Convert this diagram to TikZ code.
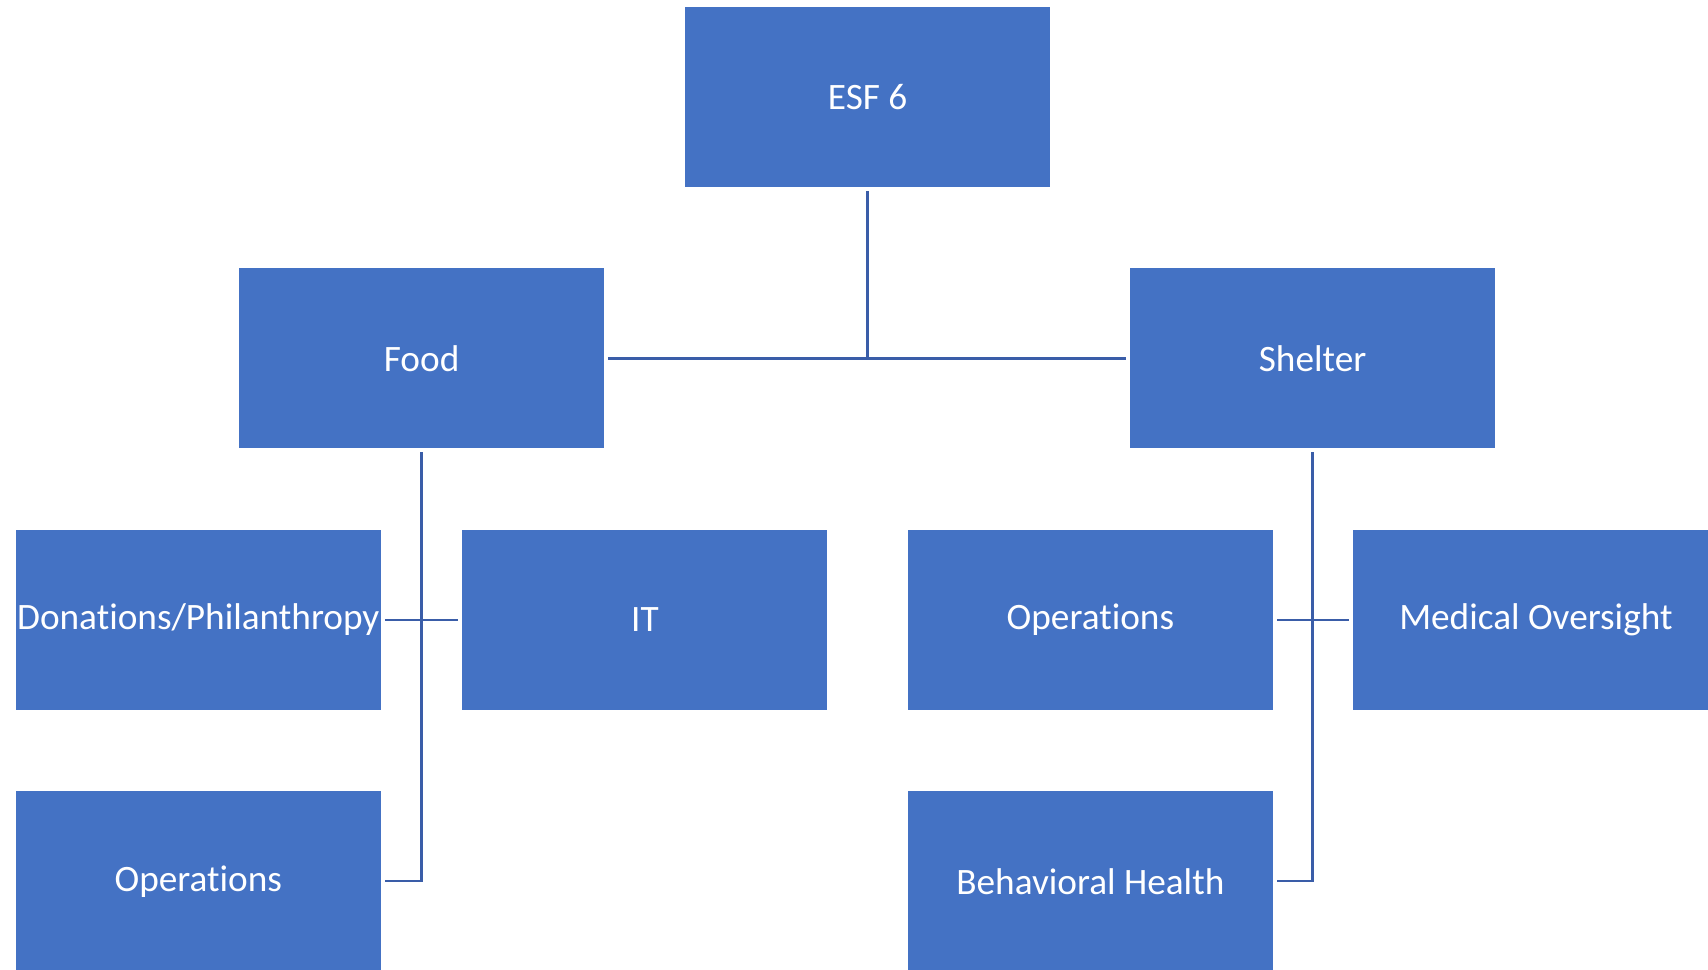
\documentclass[tikz,border=0pt]{standalone}
\usepackage{fontspec}
\setmainfont[Ligatures=NoCommon]{Carlito}
\definecolor{boxblue}{HTML}{4472C4}
\definecolor{lineblue}{HTML}{3A5DA8}
\begin{document}
\begin{tikzpicture}[x=0.01cm,y=-0.01cm,
  box/.style={rectangle, fill=boxblue, draw=white, line width=0.3pt,
    minimum width=3.66cm, minimum height=1.808cm, inner sep=0pt,
    outer sep=0.035cm, text=white, font=\fontsize{10.6}{12.7}\selectfont},
  conn/.style={draw=lineblue, line width=0.7pt}]
\useasboundingbox (0,0) rectangle (1708,970);
\clip (0,0) rectangle (1708,970);
\node[box] (esf) at (867.6,96.9) {ESF 6};
\node[box] (food) at (421.6,358.3) {Food};
\node[box] (shelter) at (1312.6,358.3) {Shelter};
\node[box] (don) at (198.3,619.8) {Donations/Philanthropy};
\node[box] (it) at (644.9,619.8) {IT};
\node[box] (opsR) at (1090.4,619.8) {Operations};
\node[box] (med) at (1535.9,619.8) {Medical Oversight};
\node[box] (opsL) at (198.3,881.2) {Operations};
\node[box] (beh) at (1090.4,881.2) {Behavioral Health};
\draw[conn] (esf.south) -- (esf.south |- food.east);
\draw[conn] (food.east) -- (shelter.west);
\draw[conn] (food.south) |- (opsL.east);
\draw[conn] (don.east) -- (it.west);
\draw[conn] (shelter.south) |- (beh.east);
\draw[conn] (opsR.east) -- (med.west);
\end{tikzpicture}
\end{document}
